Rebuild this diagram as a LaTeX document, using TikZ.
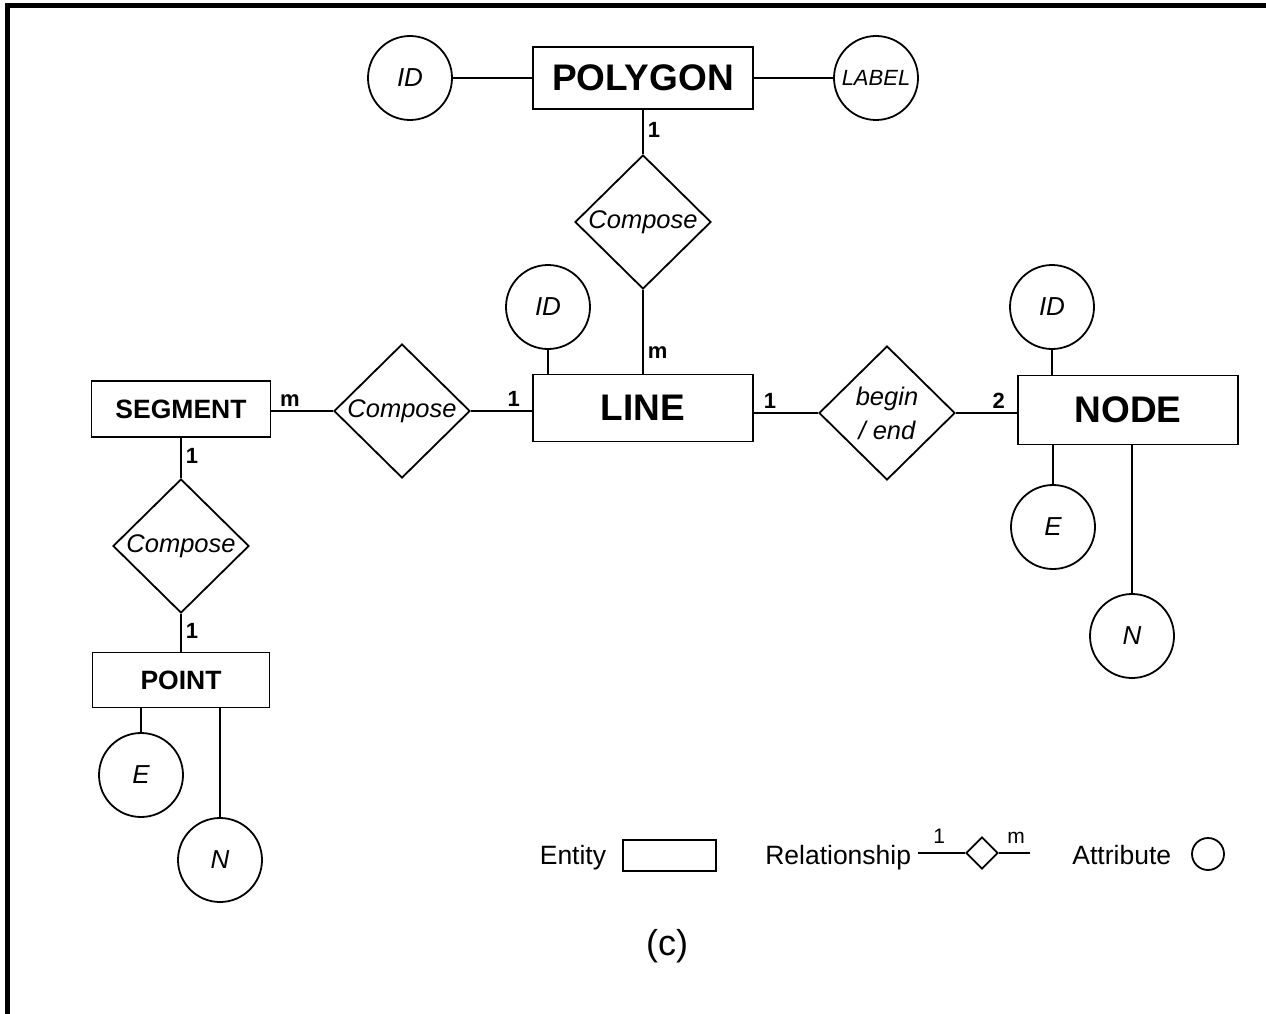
\documentclass[tikz,border=0pt]{standalone}
\usepackage{fontspec}
\setmainfont{Liberation Sans}
\usetikzlibrary{shapes.geometric}

\begin{document}
\begin{tikzpicture}[x=1pt,y=-1pt,line width=1.8pt,
		entity/.style={draw,rectangle,inner sep=0pt,font=\fontsize{37}{40}\selectfont\bfseries},
		smallentity/.style={entity,font=\fontsize{26.5}{30}\selectfont\bfseries},
		rel/.style={draw,diamond,inner sep=0pt,minimum width=136pt,minimum height=134pt,font=\fontsize{25.5}{34}\selectfont\itshape},
		attr/.style={draw,circle,inner sep=0pt,minimum size=84pt,font=\fontsize{26}{30}\selectfont\itshape},
		card/.style={inner sep=4pt,font=\fontsize{22}{24}\selectfont\bfseries},
		legend/.style={inner sep=0pt,font=\fontsize{26.5}{30}\selectfont},
		legendcard/.style={inner sep=9pt,font=\fontsize{21}{22}\selectfont}]
		\useasboundingbox (0,0) rectangle (1266,1014);
		\fill (5,3) rectangle (1266,8);
		\fill (5,3) rectangle (10,1014);

		\node[entity,minimum width=220pt,minimum height=62pt] (polygon) at (643,78) {POLYGON};
		\node[attr] (polyid) at (410,78) {ID};
		\node[attr,font=\fontsize{22}{24}\selectfont\itshape] (polylabel) at (876,78) {LABEL};
		\node[rel] (composetop) at (643,222) {Compose};
		\node[entity,minimum width=220pt,minimum height=67pt] (lines) at (643,408) {LINE};
		\node[attr] (lineid) at (548,307) {ID};
		\node[rel] (composeleft) at (402,411) {Compose};
		\node[smallentity,minimum width=179pt,minimum height=56pt] (segment) at (181,409) {SEGMENT};
		\node[rel] (composelow) at (181,546) {Compose};
		\node[smallentity,minimum width=177pt,minimum height=55pt] (point) at (181,680) {POINT};
		\node[attr] (pointe) at (141,775) {E};
		\node[attr] (pointn) at (220,860) {N};
		\node[rel,align=center] (beginend) at (887,413) {begin\\/ end};
		\node[entity,minimum width=220pt,minimum height=69pt] (nodes) at (1128,410) {NODE};
		\node[attr] (nodeid) at (1052,307) {ID};
		\node[attr] (nodee) at (1053,527) {E};
		\node[attr] (noden) at (1132,636) {N};

		\draw (polyid) -- (polygon);
		\draw (polygon) -- (polylabel);
		\draw (polygon) -- node[card,pos=.45,right] (cpoly) {1} (composetop);
		\draw (composetop) -- node[card,pos=.75,right] (cline) {m} (lines);
		\draw (lineid) -- (lineid |- lines.north);
		\draw (segment.east |- composeleft) -- node[card,pos=.3,above] (cseg) {m} (composeleft);
		\draw (composeleft) -- node[card,pos=.7,above] (cleft) {1} (composeleft -| lines.west);
		\draw (lines.east |- beginend) -- node[card,pos=.25,above] (cright) {1} (beginend);
		\draw (beginend) -- node[card,pos=.7,above] (cnode) {2} (beginend -| nodes.west);
		\draw (nodeid) -- (nodeid |- nodes.north);
		\draw (nodee) -- (nodee |- nodes.south);
		\draw (noden) -- (noden |- nodes.south);
		\draw (segment) -- node[card,pos=.45,right] (csegdown) {1} (composelow);
		\draw (composelow) -- node[card,pos=.45,right] (cpoint) {1} (point);
		\draw (pointe) -- (pointe |- point.south);
		\draw (pointn) -- (pointn |- point.south);

		\node[legend,anchor=base east] (entitytext) at (607,864) {Entity};
		\node[draw,rectangle,inner sep=0pt,minimum width=93pt,minimum height=31pt] (entitybox) at (669.5,855.5) {};
		\node[legend,anchor=base east] (reltext) at (912,864) {Relationship};
		\node[draw,diamond,inner sep=0pt,minimum width=32pt,minimum height=32pt] (relbox) at (982,853) {};
		\coordinate (relleft) at (918,853);
		\coordinate (relright) at (1030,853);
		\draw (relleft) -- node[legendcard,pos=.45,above] (relone) {1} (relbox);
		\draw (relbox) -- node[legendcard,pos=.55,above] (relm) {m} (relright);
		\node[legend,anchor=base east] (attrtext) at (1172,864) {Attribute};
		\node[draw,circle,inner sep=0pt,minimum size=32pt] (attrbox) at (1208,854) {};
		\node[font=\fontsize{36}{40}\selectfont] (caption) at (667,946) {(c)};
\end{tikzpicture}
\end{document}
